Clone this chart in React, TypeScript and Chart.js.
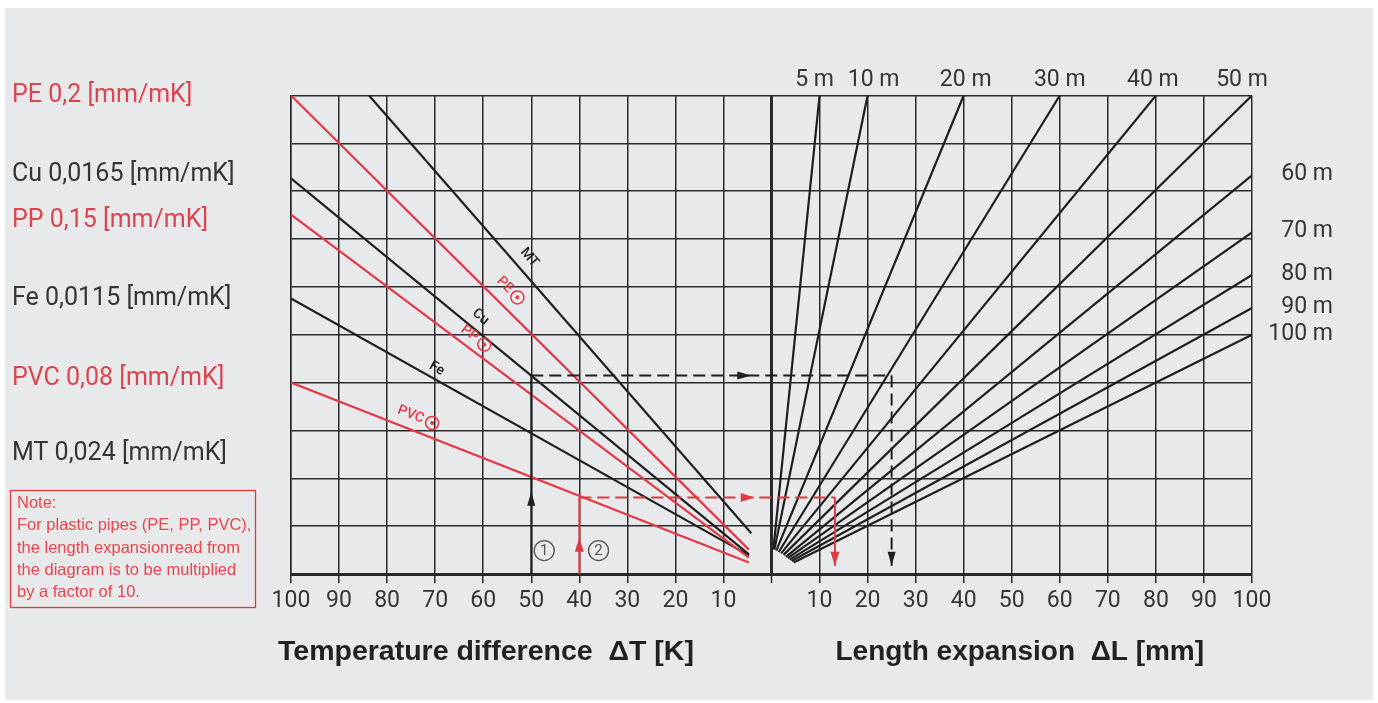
import React, { useEffect, useRef } from 'react';
import { Chart, registerables } from 'chart.js';

Chart.register(...registerables);

// ---------- DATA ----------
// Left half: x = -ΔT [K], y = grid rows (0..10)
const materialNames = ['PE', 'MT', 'Cu', 'PP', 'Fe', 'PVC'];
const materialPlastic = [true, false, false, true, false, true];
const materialStartX = [-100, -83.75, -100, -100, -100, -100];
const materialStartY = [10, 10, 8.27, 7.51, 5.76, 4.0];
const materialEndX = [-4.7, -4.2, -4.7, -4.7, -4.7, -4.7];
const materialEndY = [0.51, 0.85, 0.41, 0.34, 0.39, 0.24];

// Right half: x = ΔL [mm], one line per pipe length [m]
const pipeLengths = [5, 10, 20, 30, 40, 50, 60, 70, 80, 90, 100];
const pipeStartX = [0.4, 0.6, 1.0, 1.5, 2.0, 2.5, 3.0, 3.4, 3.8, 4.2, 4.6];
const pipeStartY = [0.52, 0.51, 0.49, 0.46, 0.43, 0.4, 0.36, 0.33, 0.3, 0.27, 0.24];
const pipeEndX = [10, 20, 40, 60, 80, 100, 100, 100, 100, 100, 100];
const pipeEndY = [10, 10, 10, 10, 10, 10, 8.33, 7.14, 6.25, 5.56, 5.0];

// Worked examples: ① Cu at ΔT=50 K, ② PVC at ΔT=40 K
const example1X = [-50, -50, 25, 25];
const example1Y = [0, 4.15, 4.15, 0.17];
const example2X = [-40, -40, 13.2, 13.2];
const example2Y = [0, 1.6, 1.6, 0.17];
const example1ArrowX = [-50, -4.2, 25];
const example1ArrowY = [1.72, 4.15, 0.17];
const example2ArrowX = [-40, -3.5, 13.2];
const example2ArrowY = [0.76, 1.6, 0.17];
const exampleMarkerX = [-47.3, -36.0];
const exampleMarkerY = [0.49, 0.49];

const coefficientLabels = [
  'PE 0,2 [mm/mK]',
  'Cu 0,0165 [mm/mK]',
  'PP 0,15 [mm/mK]',
  'Fe 0,0115 [mm/mK]',
  'PVC 0,08 [mm/mK]',
  'MT 0,024 [mm/mK]',
];
const coefficientPlastic = [true, false, true, false, true, false];
const noteLines = [
  'Note:',
  'For plastic pipes (PE, PP, PVC),',
  'the length expansionread from',
  'the diagram is to be multiplied',
  'by a factor of 10.',
];
const titleTemperature = 'Temperature difference  ΔT [K]';
const titleLength = 'Length expansion  ΔL [mm]';

// ---------- STYLE ----------
const RED = '#e03a47';
const RED_TEXT = '#da4550';
const BLACK = '#1f1f1f';
const GRID = '#2a2a2a';
const TEXT = '#353535';

const lineLabelAt = [-56.7, -52.6, -62.3, -63, -70.7, -74.6];
const lineLabelOffset = [16, 14, 13, 12, 10, 14];
const coefficientBaselines = [102, 181, 227, 305, 385, 460];
const topLabelNudge = [-5, 6, 2, 0, -3, -10];

function drawHead(ctx: CanvasRenderingContext2D, tx: number, ty: number, dir: string, len: number, hw: number) {
  ctx.beginPath();
  if (dir === 'up') {
    ctx.moveTo(tx, ty); ctx.lineTo(tx - hw, ty + len); ctx.lineTo(tx + hw, ty + len);
  } else if (dir === 'down') {
    ctx.moveTo(tx, ty); ctx.lineTo(tx - hw, ty - len); ctx.lineTo(tx + hw, ty - len);
  } else {
    ctx.moveTo(tx, ty); ctx.lineTo(tx - len, ty - hw); ctx.lineTo(tx - len, ty + hw);
  }
  ctx.closePath();
  ctx.fill();
}

const overlayPlugin = {
  id: 'nomogramOverlay',
  afterDatasetsDraw(chart: any) {
    const ctx: CanvasRenderingContext2D = chart.ctx;
    const xs = chart.scales.x;
    const ys = chart.scales.y;
    const px = (v: number) => xs.getPixelForValue(v);
    const py = (v: number) => ys.getPixelForValue(v);
    ctx.save();

    // arrow heads
    const dirs = ['up', 'right', 'down'];
    ctx.fillStyle = BLACK;
    example1ArrowX.forEach((v, i) => drawHead(ctx, px(v), py(example1ArrowY[i]), dirs[i], 14, 4));
    ctx.fillStyle = RED;
    example2ArrowX.forEach((v, i) => drawHead(ctx, px(v), py(example2ArrowY[i]), dirs[i], 14, 4.5));

    // circled markers ① ②
    exampleMarkerX.forEach((v, i) => {
      const cx = px(v), cy = py(exampleMarkerY[i]);
      ctx.strokeStyle = '#555555';
      ctx.lineWidth = 1.3;
      ctx.beginPath();
      ctx.arc(cx, cy, 10, 0, Math.PI * 2);
      ctx.stroke();
      ctx.fillStyle = '#555555';
      ctx.font = '15px Roboto';
      ctx.textAlign = 'center';
      ctx.textBaseline = 'middle';
      ctx.fillText(String(i + 1), cx, cy + 0.5);
    });

    // labels along the material lines
    materialNames.forEach((name, i) => {
      const sx = px(materialStartX[i]), sy = py(materialStartY[i]);
      const ex = px(materialEndX[i]), ey = py(materialEndY[i]);
      const a = Math.atan2(ey - sy, ex - sx);
      const t = (lineLabelAt[i] - materialStartX[i]) / (materialEndX[i] - materialStartX[i]);
      const bx = sx + (ex - sx) * t, by = sy + (ey - sy) * t;
      const d = lineLabelOffset[i];
      const cx = bx + Math.sin(a) * d, cy = by - Math.cos(a) * d;
      ctx.save();
      ctx.translate(cx, cy);
      ctx.rotate(a);
      ctx.font = '500 14px Roboto';
      ctx.textBaseline = 'middle';
      ctx.textAlign = 'left';
      const color = materialPlastic[i] ? RED : BLACK;
      ctx.fillStyle = color;
      const w = ctx.measureText(name).width;
      const r = 6.5;
      const total = materialPlastic[i] ? w + 3 + 2 * r : w;
      const start = -total / 2;
      ctx.fillText(name, start, 0);
      if (materialPlastic[i]) {
        const ccx = start + w + 3 + r;
        ctx.strokeStyle = color;
        ctx.lineWidth = 1.5;
        ctx.beginPath();
        ctx.arc(ccx, 0, r, 0, Math.PI * 2);
        ctx.stroke();
        ctx.beginPath();
        ctx.arc(ccx, 0, 2, 0, Math.PI * 2);
        ctx.fill();
      }
      ctx.restore();
    });

    // pipe length labels
    ctx.fillStyle = TEXT;
    ctx.font = '23px Roboto';
    ctx.textBaseline = 'alphabetic';
    pipeLengths.forEach((L, i) => {
      if (pipeEndY[i] >= 10) {
        ctx.textAlign = 'center';
        ctx.fillText(`${L} m`, px(pipeEndX[i]) + (topLabelNudge[i] || 0), py(10) - 9.5);
      } else {
        ctx.textAlign = 'right';
        ctx.fillText(`${L} m`, px(100) + 81, py(pipeEndY[i]) + 5);
      }
    });

    ctx.restore();
  },
  afterDraw(chart: any) {
    const ctx: CanvasRenderingContext2D = chart.ctx;
    const xs = chart.scales.x;
    ctx.save();
    ctx.textBaseline = 'alphabetic';
    ctx.textAlign = 'left';

    // coefficient legend on the left
    ctx.font = '25px Roboto';
    coefficientLabels.forEach((s, i) => {
      ctx.fillStyle = coefficientPlastic[i] ? RED_TEXT : TEXT;
      ctx.fillText(s, 12, coefficientBaselines[i]);
    });

    // note box
    ctx.strokeStyle = '#e53a40';
    ctx.lineWidth = 1.3;
    ctx.strokeRect(10.5, 490.5, 245, 117);
    ctx.fillStyle = '#e8454d';
    ctx.font = '16.5px "Liberation Sans"';
    noteLines.forEach((s, i) => ctx.fillText(s, 17, 508 + i * 22.3));

    // axis titles
    ctx.fillStyle = '#222222';
    ctx.font = 'bold 28.5px "Liberation Sans"';
    ctx.fillText(titleTemperature, xs.getPixelForValue(-100) - 13, 660);
    ctx.font = 'bold 28px "Liberation Sans"';
    ctx.fillText(titleLength, xs.getPixelForValue(0) + 64, 660);
    ctx.restore();
  },
};

function buildDatasets() {
  const ds: any[] = [];
  const seg = (x0: number, y0: number, x1: number, y1: number, color: string, dashed: boolean, w = 2) => ({
    data: [{ x: x0, y: y0 }, { x: x1, y: y1 }],
    borderColor: color,
    borderWidth: w,
    borderDash: dashed ? [12, 6] : [],
    pointRadius: 0,
    showLine: true,
    fill: false,
  });
  const ex1Style = [false, true, true];
  const ex2Style = [false, true, false];
  for (let i = 0; i < 3; i++) {
    ds.push(seg(example2X[i], example2Y[i], example2X[i + 1], example2Y[i + 1], RED, ex2Style[i]));
  }
  for (let i = 0; i < 3; i++) {
    ds.push(seg(example1X[i], example1Y[i], example1X[i + 1], example1Y[i + 1], BLACK, ex1Style[i]));
  }
  materialNames.forEach((_, i) => {
    ds.push(seg(materialStartX[i], materialStartY[i], materialEndX[i], materialEndY[i], materialPlastic[i] ? RED : BLACK, false, 2.2));
  });
  pipeLengths.forEach((_, i) => {
    ds.push(seg(pipeStartX[i], pipeStartY[i], pipeEndX[i], pipeEndY[i], BLACK, false, 2.2));
  });
  return ds;
}

export default function App() {
  const ref = useRef<HTMLCanvasElement>(null);
  useEffect(() => {
    const canvas = ref.current;
    if (!canvas) return;
    const chart = new Chart(canvas, {
      type: 'scatter',
      data: { datasets: buildDatasets() },
      options: {
        animation: false,
        responsive: false,
        devicePixelRatio: 1,
        events: [],
        layout: { padding: { left: 291, top: 95.5, right: 126, bottom: 0 } },
        plugins: { legend: { display: false }, tooltip: { enabled: false }, title: { display: false } },
        scales: {
          x: {
            type: 'linear',
            min: -100,
            max: 100,
            afterFit: (s: any) => { s.height = 129; },
            ticks: {
              stepSize: 10,
              autoSkip: false,
              maxRotation: 0,
              padding: 4,
              color: TEXT,
              font: { family: 'Roboto', size: 23 },
              callback: (v: any) => (Number(v) === 0 ? '' : String(Math.abs(Number(v)))),
            },
            grid: {
              color: GRID,
              lineWidth: (c: any) => (c.tick && c.tick.value === 0 ? 3 : 1.5),
              drawTicks: true,
              tickLength: 9,
              tickWidth: 1.5,
              tickColor: GRID,
            },
            border: { display: true, color: GRID, width: 3 },
          },
          y: {
            type: 'linear',
            min: 0,
            max: 10,
            afterFit: (s: any) => { s.width = 0; },
            ticks: { stepSize: 1, display: false },
            grid: {
              color: GRID,
              lineWidth: (c: any) => (c.tick && c.tick.value === 0 ? 3 : 1.5),
              drawTicks: false,
            },
            border: { display: true, color: GRID, width: 1.5 },
          },
        },
      },
      plugins: [overlayPlugin],
    } as any);
    return () => chart.destroy();
  }, []);

  return (
    <div style={{ position: 'fixed', left: 0, top: 0, width: 1378, height: 703, background: '#ffffff', overflow: 'hidden' }}>
      <div style={{ position: 'absolute', left: 5, top: 8, width: 1368, height: 692, background: '#e7e9ea' }} />
      <canvas ref={ref} width={1378} height={703} style={{ position: 'absolute', left: 0, top: 0, width: 1378, height: 703 }} />
    </div>
  );
}
